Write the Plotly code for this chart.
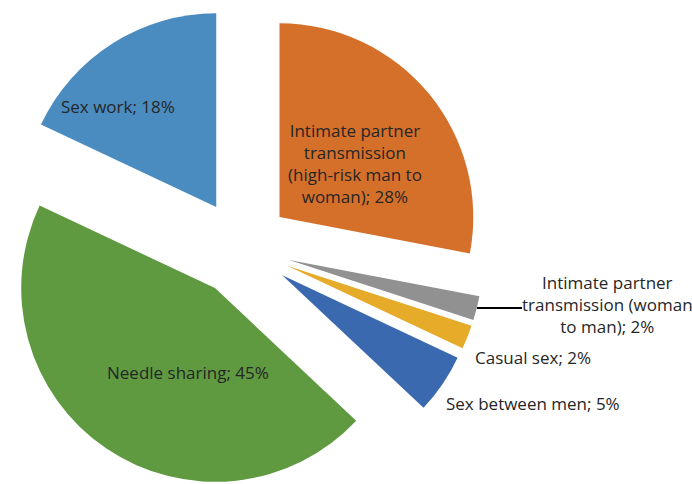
import plotly.graph_objects as go

labels = [
    "Intimate partner transmission (high-risk man to woman)",
    "Intimate partner transmission (woman to man)",
    "Casual sex",
    "Sex between men",
    "Needle sharing",
    "Sex work",
]
shares = [28, 2, 2, 5, 45, 18]
label_text = [
    "Intimate partner<br>transmission<br>(high-risk man to<br>woman); 28%",
    "Intimate partner<br>transmission (woman<br>to man); 2%",
    "Casual sex; 2%",
    "Sex between men; 5%",
    "Needle sharing; 45%",
    "Sex work; 18%",
]

colors = ["#D5702B", "#919191", "#E6AB28", "#3A69B0", "#5F9A41", "#4A8CC0"]
font_family = "Open Sans, Noto Sans, sans-serif"
text_color = "#262626"

W, H = 692, 496

fig = go.Figure()
fig.add_trace(
    go.Pie(
        labels=labels,
        values=shares,
        textinfo="none",
        marker=dict(colors=colors, line=dict(width=0)),
        pull=[0.25] * len(shares),
        sort=False,
        direction="clockwise",
        rotation=0,
        domain=dict(x=[0, 0.7], y=[0, 1]),
        hoverinfo="label+percent",
    )
)

# label placement (pixel position of anchor, anchor side) per slice
label_pos = [
    (355, 163, "center"),
    (607, 304, "center"),
    (473, 357, "left"),
    (444, 403, "left"),
    (188, 372, "center"),
    (118, 106, "center"),
]
for txt, (px, py, anchor) in zip(label_text, label_pos):
    fig.add_annotation(
        x=px / W,
        y=1 - py / H,
        xref="paper",
        yref="paper",
        text=txt,
        showarrow=False,
        xanchor=anchor,
        yanchor="middle",
        align="center",
        font=dict(family=font_family, size=17, color=text_color),
    )

# leader line for the thin grey slice
fig.add_shape(
    type="line",
    xref="paper",
    yref="paper",
    x0=477 / W,
    y0=1 - 308 / H,
    x1=522 / W,
    y1=1 - 308 / H,
    line=dict(color="#000000", width=2),
)

fig.update_layout(
    width=W,
    height=H,
    margin=dict(l=0, r=0, t=0, b=0),
    paper_bgcolor="white",
    plot_bgcolor="white",
    showlegend=False,
    font=dict(family=font_family, color=text_color),
)

fig.write_html(
    "out.html",
    config={"displayModeBar": False},
    post_script="document.body.style.margin = '0';",
)
